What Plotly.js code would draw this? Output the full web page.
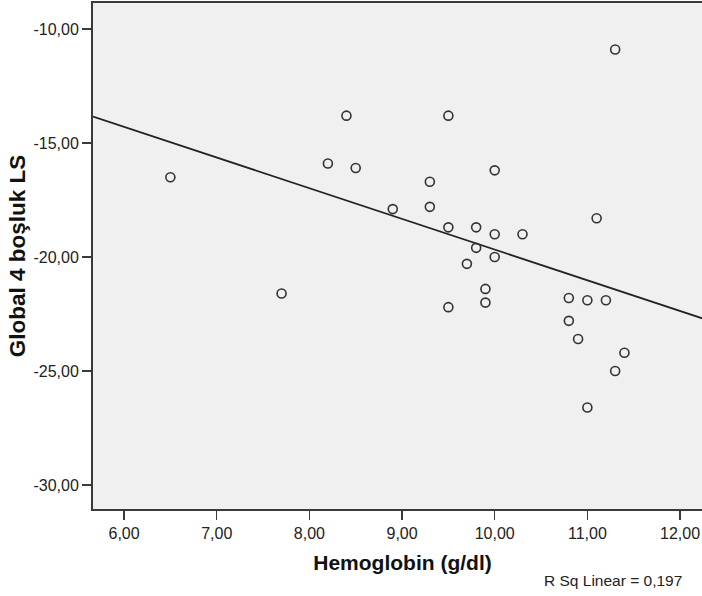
<!DOCTYPE html>
<html>
<head>
<meta charset="utf-8">
<script src="https://cdn.plot.ly/plotly-3.0.1.min.js"></script>
<style>
html,body{margin:0;padding:0;overflow:hidden;background:#fff;}
#chart{width:712px;height:596px;}
</style>
</head>
<body>
<div id="chart"></div>
<script>
// Hemoglobin (g/dl)
var hemoglobin = [6.5, 7.7, 8.2, 8.4, 8.5, 8.9, 9.3, 9.3, 9.5, 9.5, 9.5, 9.7, 9.8, 9.8, 9.9,
                  9.9, 10.0, 10.0, 10.0, 10.3, 10.8, 10.8, 10.9, 11.0, 11.0, 11.1, 11.2, 11.3, 11.3, 11.4];
// Global 4 boşluk LS
var globalLS = [-16.5, -21.6, -15.9, -13.8, -16.1, -17.9, -16.7, -17.8, -13.8, -18.7, -22.2, -20.3, -18.7, -19.6, -21.4,
                -22.0, -16.2, -19.0, -20.0, -19.0, -21.8, -22.8, -23.6, -21.9, -26.6, -18.3, -21.9, -10.9, -25.0, -24.2];
var xTickVals = [6, 7, 8, 9, 10, 11, 12];
var xTickText = ["6,00", "7,00", "8,00", "9,00", "10,00", "11,00", "12,00"];
var yTickVals = [-30, -25, -20, -15, -10];
var yTickText = ["-30,00", "-25,00", "-20,00", "-15,00", "-10,00"];
var xTitle = "Hemoglobin (g/dl)";
var yTitle = "Global 4 boşluk LS";
var rsqLabel = "R Sq Linear = 0,197";
var xRange = [5.665, 12.345];
var yRange = [-31.053, -8.86];

// least squares fit line (as SPSS draws it across the axis range)
var n = hemoglobin.length, mx = 0, my = 0;
for (var i = 0; i < n; i++) { mx += hemoglobin[i]; my += globalLS[i]; }
mx /= n; my /= n;
var sxy = 0, sxx = 0;
for (var i = 0; i < n; i++) { sxy += (hemoglobin[i]-mx)*(globalLS[i]-my); sxx += (hemoglobin[i]-mx)*(hemoglobin[i]-mx); }
var slope = sxy / sxx, icpt = my - slope * mx;
var fitX = [xRange[0], xRange[1]];
var fitY = fitX.map(function(v){ return icpt + slope * v; });

var font = "Liberation Sans, Arial, sans-serif";
var traces = [
  {x: fitX, y: fitY, type: 'scatter', mode: 'lines', line: {color: '#222', width: 1.8}, hoverinfo: 'skip'},
  {x: hemoglobin, y: globalLS, type: 'scatter', mode: 'markers',
   marker: {symbol: 'circle-open', size: 9, color: '#333', line: {width: 1.6, color: '#333'}}}
];
var layout = {
  width: 712, height: 596,
  margin: {l: 93, r: 0, t: 3, b: 87, pad: 0},
  paper_bgcolor: '#ffffff', plot_bgcolor: '#f0f0f0',
  showlegend: false,
  font: {family: font, color: '#222'},
  xaxis: {
    range: xRange, tickmode: 'array', tickvals: xTickVals, ticktext: xTickText,
    showgrid: false, zeroline: false,
    showline: true, linecolor: '#3a3a3a', linewidth: 2, mirror: true,
    ticks: 'outside', ticklen: 9, tickwidth: 1.5, tickcolor: '#3a3a3a',
    tickfont: {family: font, size: 16, color: '#222'},
    title: {text: xTitle, font: {family: font, size: 21, color: '#111', weight: 'bold'}, standoff: 14}
  },
  yaxis: {
    range: yRange, tickmode: 'array', tickvals: yTickVals, ticktext: yTickText,
    showgrid: false, zeroline: false,
    showline: true, linecolor: '#3a3a3a', linewidth: 2, mirror: true,
    ticks: 'outside', ticklen: 9, tickwidth: 1.5, tickcolor: '#3a3a3a',
    tickfont: {family: font, size: 16, color: '#222'},
    title: {text: yTitle, font: {family: font, size: 22.5, color: '#111', weight: 'bold'}, standoff: 2}
  },
  annotations: [{
    xref: 'paper', yref: 'paper', x: (542-93)/619, y: -(591-509)/506,
    xanchor: 'left', yanchor: 'bottom', showarrow: false,
    text: rsqLabel, font: {family: font, size: 15.5, color: '#222'}
  }]
};
Plotly.newPlot('chart', traces, layout, {displayModeBar: false, staticPlot: true});
</script>
</body>
</html>
